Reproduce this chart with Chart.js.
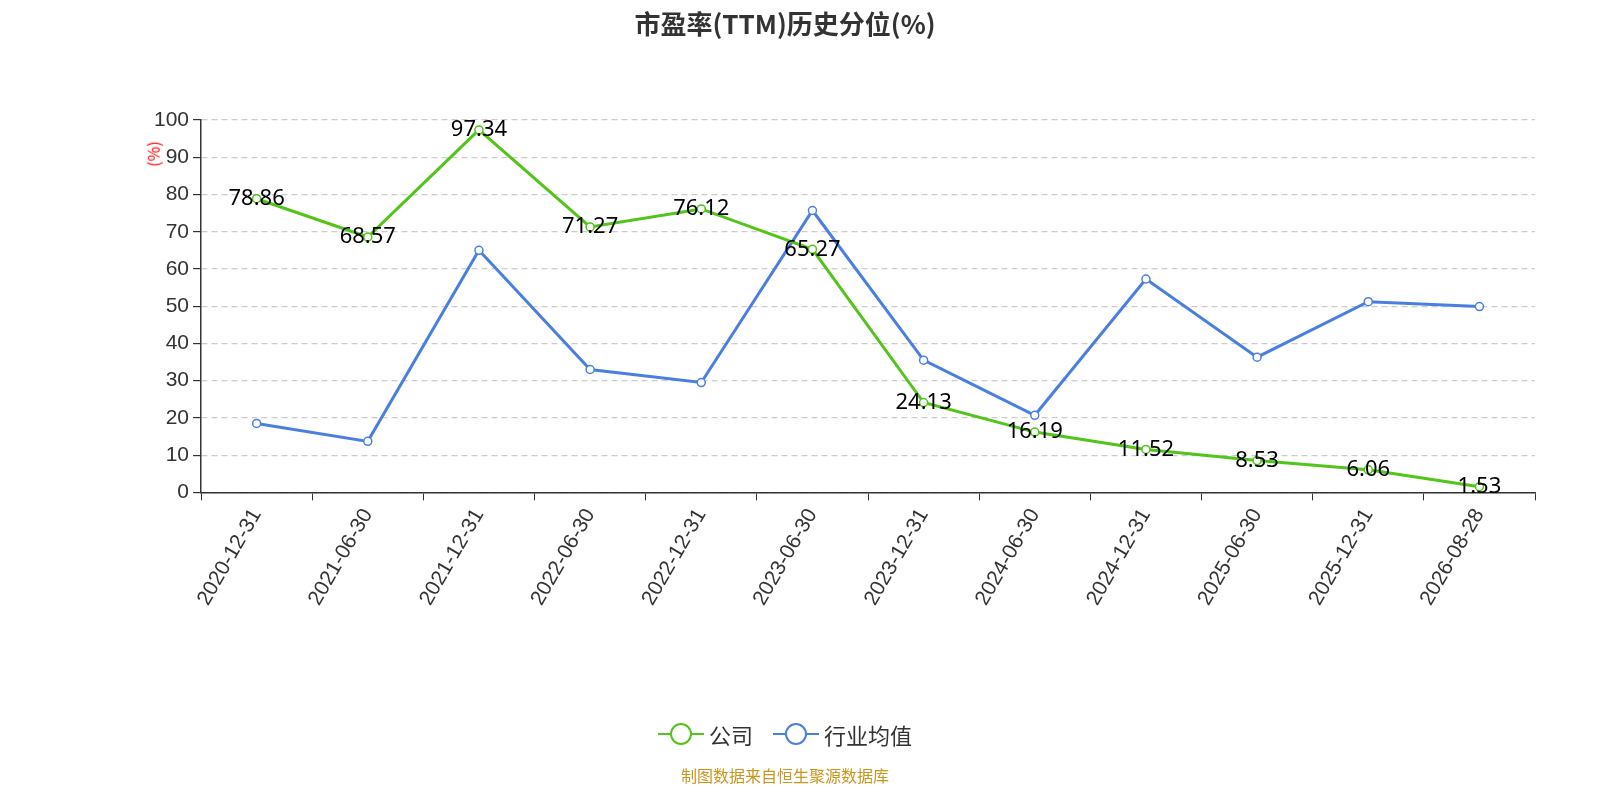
<!DOCTYPE html>
<html><head><meta charset="utf-8">
<script src="https://cdn.jsdelivr.net/npm/chart.js@4"></script>
<style>
body{margin:0;width:1600px;height:800px;background:#fff;font-family:"Noto Sans CJK SC","Noto Sans",sans-serif;position:relative;overflow:hidden}
#t{position:absolute;top:4px;left:0;width:1570px;text-align:center;font-size:26px;font-weight:bold;color:#333}
#lg{position:absolute;top:718px;left:0;width:1570px;text-align:center;font-size:22px;color:#333}
#lg span{display:inline-flex;align-items:center;margin:0 10px}
#src{position:absolute;top:763px;left:0;width:1570px;text-align:center;font-size:16px;color:#c8961e}
#yt{position:absolute;left:140px;top:142px;transform:rotate(-90deg);font-size:16px;color:#f00}
canvas{position:absolute;left:0;top:0}
</style></head><body>
<canvas id="c" width="1600" height="800"></canvas>
<div id="t">市盈率(TTM)历史分位(%)</div>
<div id="yt">(%)</div>
<div id="lg"><span><svg width="46" height="24"><line x1="0" y1="12" x2="46" y2="12" stroke="#52c41a" stroke-width="2"/><circle cx="23" cy="12" r="10" fill="#fff" stroke="#52c41a" stroke-width="2"/></svg>&nbsp;公司</span><span><svg width="46" height="24"><line x1="0" y1="12" x2="46" y2="12" stroke="#4a7fe0" stroke-width="2"/><circle cx="23" cy="12" r="10" fill="#fff" stroke="#4a7fe0" stroke-width="2"/></svg>&nbsp;行业均值</span></div>
<div id="src">制图数据来自恒生聚源数据库</div>
<script>
const categories=["2020-12-31","2021-06-30","2021-12-31","2022-06-30","2022-12-31","2023-06-30","2023-12-31","2024-06-30","2024-12-31","2025-06-30","2025-12-31","2026-08-28"];
const company=[78.86,68.57,97.34,71.27,76.12,65.27,24.13,16.19,11.52,8.53,6.06,1.53];
const industry=[18.5,13.7,65.0,33.0,29.5,75.7,35.5,20.7,57.3,36.3,51.2,49.9];
const yTicks=[0,10,20,30,40,50,60,70,80,90,100];
const labelPlugin={id:'lbl',afterDatasetsDraw(ch){const ctx=ch.ctx;const m=ch.getDatasetMeta(0);ctx.save();ctx.font='22px "Noto Sans","DejaVu Sans",sans-serif';ctx.fillStyle='#000';ctx.textAlign='center';ctx.textBaseline='middle';m.data.forEach((p,i)=>ctx.fillText(company[i].toFixed(2),p.x,p.y));ctx.restore();}};
new Chart(document.getElementById('c'),{type:'line',
data:{labels:categories,datasets:[
{data:company,borderColor:'#52c41a',backgroundColor:'#fff',borderWidth:3,pointRadius:4,pointBorderWidth:1.5,tension:0},
{data:industry,borderColor:'#4a7fe0',backgroundColor:'#fff',borderWidth:3,pointRadius:4,pointBorderWidth:1.5,tension:0}]},
options:{responsive:false,animation:false,events:[],layout:{padding:{top:120,right:65,bottom:186,left:150}},
plugins:{legend:{display:false},tooltip:{enabled:false},title:{display:false}},
scales:{
x:{offset:true,grid:{display:true,drawOnChartArea:false,offset:true,color:'#333',tickLength:8},border:{color:'#333',width:1.5},
ticks:{color:'#333',font:{size:21},maxRotation:60,minRotation:60,padding:4}},
y:{min:0,max:100,afterBuildTicks(a){a.ticks=yTicks.map(v=>({value:v}));},grid:{color:'#ccc',tickLength:8,tickColor:'#333',lineWidth:1.2},border:{color:'#333',width:1.5,dash:[6,4]},
ticks:{color:'#333',font:{size:21},padding:4}}}},
plugins:[labelPlugin]});
</script></body></html>
